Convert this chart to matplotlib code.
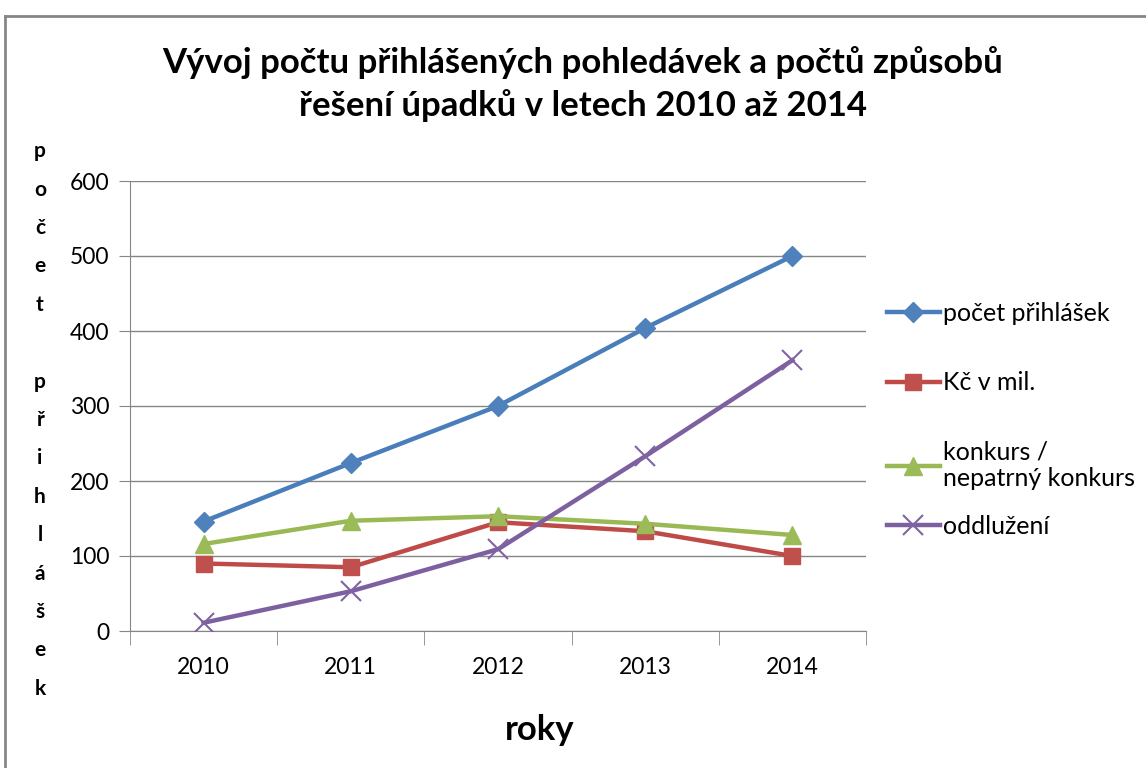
import matplotlib.pyplot as plt
import numpy as np
from matplotlib.lines import Line2D

# Data
roky = ['2010', '2011', '2012', '2013', '2014']
pocet_prihlasek = [146, 224, 300, 404, 500]
kc_v_mil = [90, 85, 145, 133, 100]
konkurs = [116, 147, 153, 143, 128]
oddluzeni = [11, 53, 109, 233, 361]

plt.rcParams['font.family'] = ['Lato', 'DejaVu Sans']

fig = plt.figure(figsize=(11.46, 7.68), dpi=100)
ax = fig.add_axes([130/1146, 137/768, 736/1146, 450/768])

x = np.arange(1, len(roky) + 1)

l1, = ax.plot(x, pocet_prihlasek, color='#4A7EBB', lw=3.2, marker='D', ms=10,
              mfc='#4F81BD', mec='#4F81BD', label='počet přihlášek', zorder=3)
l2, = ax.plot(x, kc_v_mil, color='#BE4B48', lw=3.2, marker='s', ms=12,
              mfc='#C0504D', mec='#C0504D', label='Kč v mil.', zorder=3)
l3, = ax.plot(x, konkurs, color='#98B954', lw=3.2, marker='^', ms=13,
              mfc='#9BBB59', mec='#9BBB59', label='konkurs /\nnepatrný konkurs', zorder=3)
l4, = ax.plot(x, oddluzeni, color='#7D60A0', lw=3.2, marker='x', ms=14, mew=1.5,
              mec='#8064A2', label='oddlužení', zorder=3)

ax.set_xlim(0.5, len(roky) + 0.5)
ax.set_ylim(0, 600)
ax.set_yticks(range(0, 601, 100))
ax.set_xticks(x)
ax.set_xticklabels(roky)
ax.set_xticks(np.arange(0.5, len(roky) + 1, 1), minor=True)

ax.grid(axis='y', color='#868686', lw=1)
ax.set_axisbelow(True)
for s in ['top', 'right']:
    ax.spines[s].set_visible(False)
for s in ['left', 'bottom']:
    ax.spines[s].set_color('#868686')

ax.tick_params(axis='y', length=8, color='#868686', labelsize=16.5, pad=7)
ax.tick_params(axis='x', which='major', length=0, labelsize=16.5, pad=19)
ax.tick_params(axis='x', which='minor', length=10, color='#868686')

# legend split in two so the last entry sits where Excel put it
leg_kw = dict(frameon=False, fontsize=18, handlelength=2.1, handletextpad=0.15,
              labelspacing=1.85, borderaxespad=0, loc='upper left')
leg1 = ax.legend(handles=[l1, l2, l3], bbox_to_anchor=(1.015, 0.753), **leg_kw)
ax.add_artist(leg1)
ax.legend(handles=[l4], bbox_to_anchor=(1.015, 0.28), **leg_kw)

fig.text(583/1146, 1 - 84/768,
         'Vývoj počtu přihlášených pohledávek a počtů způsobů\nřešení úpadků v letech 2010 až 2014',
         ha='center', va='center', fontsize=25, fontweight='bold', linespacing=1.35)

fig.text(40/1146, 1 - 420/768, '\n'.join('počet přihlášek'),
         ha='center', va='center', fontsize=15, fontweight='bold', linespacing=2.15)

fig.text(540/1146, 1 - 730/768, 'roky', ha='center', va='center',
         fontsize=25, fontweight='bold')

# chart frame
fig.add_artist(Line2D([5/1146, 5/1146], [0, 1 - 16/768], transform=fig.transFigure,
                      color='#868686', lw=2))
fig.add_artist(Line2D([5/1146, 1], [1 - 16/768, 1 - 16/768], transform=fig.transFigure,
                      color='#868686', lw=2))

fig.savefig('out.png', dpi=100)
